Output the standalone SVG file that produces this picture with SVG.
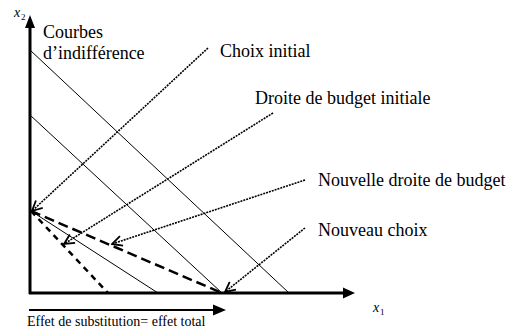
<svg xmlns="http://www.w3.org/2000/svg" width="508" height="332" viewBox="0 0 508 332">
<style>
text{font-family:'Liberation Serif','Times New Roman',Times,serif;fill:#000}
.lbl{font-size:18px}
.small{font-size:14px}
.var{font-style:italic;font-size:14px}
.sub{font-size:9px}
.curve{stroke:#000;stroke-width:1;fill:none}
.dot{stroke:#000;stroke-width:1.6;stroke-dasharray:2 1;fill:none;marker-end:url(#open)}
.axis{stroke:#000;stroke-width:3;fill:none}
</style>
<defs>
<marker id="open" viewBox="0 0 12 12" refX="11" refY="6" markerWidth="12" markerHeight="12" markerUnits="userSpaceOnUse" orient="auto">
<polyline points="1,1 11,6 1,11" fill="none" stroke="#000" stroke-width="1.8"/>
</marker>
</defs>
<rect width="508" height="332" fill="#fff"/>
<g id="axes">
<line class="axis" x1="30" y1="294" x2="30" y2="26"/>
<polygon points="30,15 25,28 35,28" fill="#000"/>
<line class="axis" x1="29" y1="293" x2="345" y2="293"/>
<polygon points="355,293 343,287.5 343,298.5" fill="#000"/>
<text class="var" x="14" y="17" font-family="Liberation Serif, serif">x</text><text class="sub" x="21" y="20" font-family="Liberation Serif, serif">2</text>
<text class="var" x="373" y="312" font-family="Liberation Serif, serif">x</text><text class="sub" x="380" y="315" font-family="Liberation Serif, serif">1</text>
</g>
<g id="indifference-curves">
<line class="curve" x1="30" y1="50" x2="289" y2="293"/>
<line class="curve" x1="30" y1="115" x2="222" y2="293"/>
<line class="curve" x1="31" y1="211" x2="158" y2="293"/>
</g>
<g id="budget-lines">
<line x1="31" y1="211" x2="222" y2="293" stroke="#000" stroke-width="2.5" stroke-dasharray="10 5"/>
<line x1="31" y1="211" x2="108" y2="293" stroke="#000" stroke-width="2.5" stroke-dasharray="6 5"/>
</g>
<g id="labels">
<text class="lbl" x="43" y="38" font-family="Liberation Serif, serif">Courbes</text>
<text class="lbl" x="43" y="59" font-family="Liberation Serif, serif">d’indifférence</text>
<text class="lbl" x="220" y="57" font-family="Liberation Serif, serif">Choix initial</text>
<text class="lbl" x="255" y="104" font-family="Liberation Serif, serif">Droite de budget initiale</text>
<text class="lbl" x="318" y="186" font-family="Liberation Serif, serif">Nouvelle droite de budget</text>
<text class="lbl" x="318" y="236" font-family="Liberation Serif, serif">Nouveau choix</text>
</g>
<g id="connectors">
<line class="dot" x1="208" y1="48" x2="32" y2="211"/>
<line class="dot" x1="273" y1="113" x2="64" y2="244"/>
<line class="dot" x1="305" y1="180" x2="112" y2="244"/>
<line class="dot" x1="305" y1="228" x2="225" y2="292"/>
</g>
<g id="effect">
<line x1="29" y1="310" x2="214" y2="310" stroke="#000" stroke-width="2"/>
<polygon points="226,310 213,304.5 213,315.5" fill="#000"/>
<text class="small" x="27" y="326" font-family="Liberation Serif, serif">Effet de substitution= effet total</text>
</g>
</svg>
